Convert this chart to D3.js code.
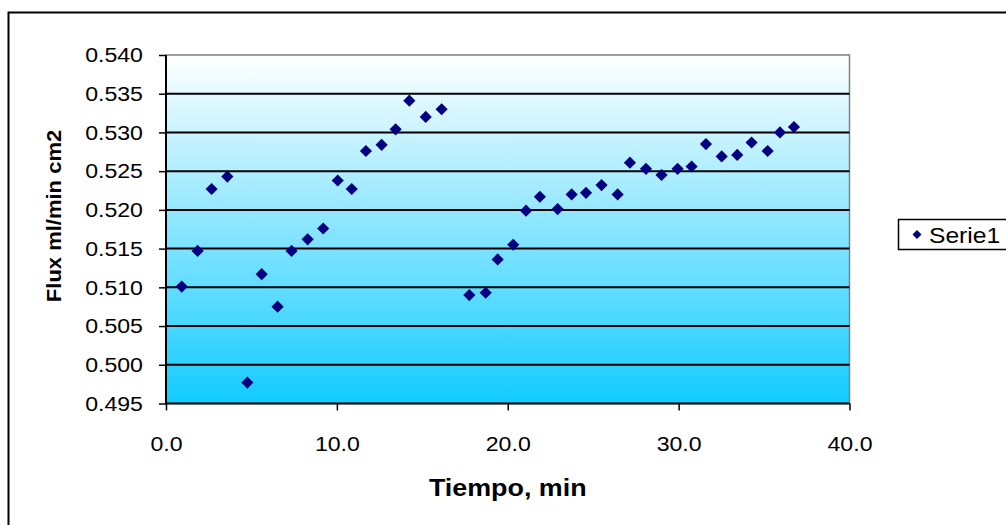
<!DOCTYPE html>
<html>
<head>
<meta charset="utf-8">
<script src="https://cdn.jsdelivr.net/npm/d3@7"></script>
<style>
  body { margin: 0; background: #fff; }
  text { font-family: Arial, "Liberation Sans", sans-serif; }
</style>
</head>
<body>
<div id="chart"></div>
<script>
// Tiempo (min)
const tiempo = [0.92, 1.85, 2.67, 3.59, 4.76, 5.60, 6.53, 7.35, 8.29, 9.20,
  10.05, 10.87, 11.70, 12.62, 13.44, 14.24, 15.20, 16.13, 17.75, 18.71,
  19.41, 20.32, 21.07, 21.88, 22.92, 23.74, 24.58, 25.49, 26.43, 27.15,
  28.09, 29.00, 29.94, 30.76, 31.60, 32.52, 33.43, 34.27, 35.21, 35.93, 36.75];
// Flux ml/min cm2
const flux = [0.5101, 0.5147, 0.5227, 0.5243, 0.4977, 0.5117, 0.5075, 0.5147, 0.5162, 0.5176,
  0.5238, 0.5227, 0.5276, 0.5284, 0.5304, 0.5341, 0.5320, 0.5330, 0.5090, 0.5093,
  0.5136, 0.5155, 0.5199, 0.5217, 0.5201, 0.5220, 0.5222, 0.5232, 0.5220, 0.5261,
  0.5253, 0.5245, 0.5253, 0.5256, 0.5285, 0.5269, 0.5271, 0.5287, 0.5276, 0.5300, 0.5307];
const xTicks = [0, 10, 20, 30, 40];
const yTicks = [0.495, 0.500, 0.505, 0.510, 0.515, 0.520, 0.525, 0.530, 0.535, 0.540];
const seriesName = "Serie1";

const W = 1006, H = 525;
const plot = { left: 166, top: 55, right: 849.5, bottom: 403.5 };
const font = "Arial, 'Liberation Sans', sans-serif";

const svg = d3.select("#chart").append("svg")
  .attr("width", W).attr("height", H);

// outer chart border
svg.append("rect")
  .attr("x", 8.5).attr("y", 12.5)
  .attr("width", 1010).attr("height", 530)
  .attr("fill", "none").attr("stroke", "#000").attr("stroke-width", 2);

const x = d3.scaleLinear().domain([0, 40]).range([plot.left, plot.right]);
const y = d3.scaleLinear().domain([0.495, 0.540]).range([plot.bottom, plot.top]);

// gradient plot background
const grad = svg.append("defs").append("linearGradient")
  .attr("id", "bg").attr("x1", 0).attr("y1", 0).attr("x2", 0).attr("y2", 1);
grad.append("stop").attr("offset", "0%").attr("stop-color", "#ffffff");
grad.append("stop").attr("offset", "100%").attr("stop-color", "#12cbff");

svg.append("rect")
  .attr("x", plot.left).attr("y", plot.top)
  .attr("width", plot.right - plot.left).attr("height", plot.bottom - plot.top)
  .attr("fill", "url(#bg)")
  .attr("stroke", "#808080").attr("stroke-width", 1.5);

// gridlines
svg.append("g")
  .selectAll("line")
  .data(yTicks.slice(1, -1))
  .join("line")
  .attr("x1", plot.left).attr("x2", plot.right)
  .attr("y1", d => y(d)).attr("y2", d => y(d))
  .attr("stroke", "#000").attr("stroke-width", 2);

// y axis
const yAxis = svg.append("g")
  .attr("transform", `translate(${plot.left},0)`)
  .call(d3.axisLeft(y).tickValues(yTicks).tickFormat(d3.format(".3f")).tickSize(7).tickPadding(14));
yAxis.select(".domain").attr("stroke-width", 2).attr("d", `M0,${plot.top}V${plot.bottom}`);
yAxis.selectAll(".tick line").attr("stroke-width", 1.5);
yAxis.selectAll("text").attr("font-size", 21).attr("fill", "#000")
  .attr("font-family", font).attr("transform", "scale(1.1,1)");

// x axis
const xAxis = svg.append("g")
  .attr("transform", `translate(0,${plot.bottom})`)
  .call(d3.axisBottom(x).tickValues(xTicks).tickFormat(d3.format(".1f")).tickSize(7).tickPadding(26));
xAxis.select(".domain").attr("stroke-width", 2).attr("d", `M${plot.left},0H${plot.right}`);
xAxis.selectAll(".tick line").attr("stroke-width", 1.5);
xAxis.selectAll("text").attr("font-size", 21).attr("fill", "#000")
  .attr("font-family", font).attr("transform", "scale(1.1,1)");

// axis titles
svg.append("text")
  .attr("transform", `translate(${(plot.left + plot.right) / 2},496) scale(1.12,1)`)
  .attr("text-anchor", "middle")
  .attr("font-size", 24).attr("font-weight", "bold")
  .text("Tiempo, min");

svg.append("text")
  .attr("transform", `translate(61,216) rotate(-90) scale(1.1,1)`)
  .attr("text-anchor", "middle")
  .attr("font-size", 20).attr("font-weight", "bold")
  .text("Flux ml/min cm2");

// points
const diamond = d3.symbol().type(d3.symbolSquare).size(74);
const pts = tiempo.map((t, i) => ({ t: t, v: flux[i] }));
svg.append("g")
  .selectAll("path")
  .data(pts)
  .join("path")
  .attr("d", diamond)
  .attr("transform", d => `translate(${x(d.t)},${y(d.v)}) rotate(45)`)
  .attr("fill", "#000080");

// legend
const legend = svg.append("g");
legend.append("rect")
  .attr("x", 898.5).attr("y", 219.5)
  .attr("width", 120).attr("height", 30)
  .attr("fill", "#fff").attr("stroke", "#000").attr("stroke-width", 1.5);
legend.append("path")
  .attr("d", d3.symbol().type(d3.symbolSquare).size(40))
  .attr("transform", "translate(917,234.5) rotate(45)")
  .attr("fill", "#000080");
legend.append("text")
  .attr("transform", "translate(929,242.5) scale(1.12,1)")
  .attr("font-size", 22)
  .text(seriesName);
</script>
</body>
</html>
